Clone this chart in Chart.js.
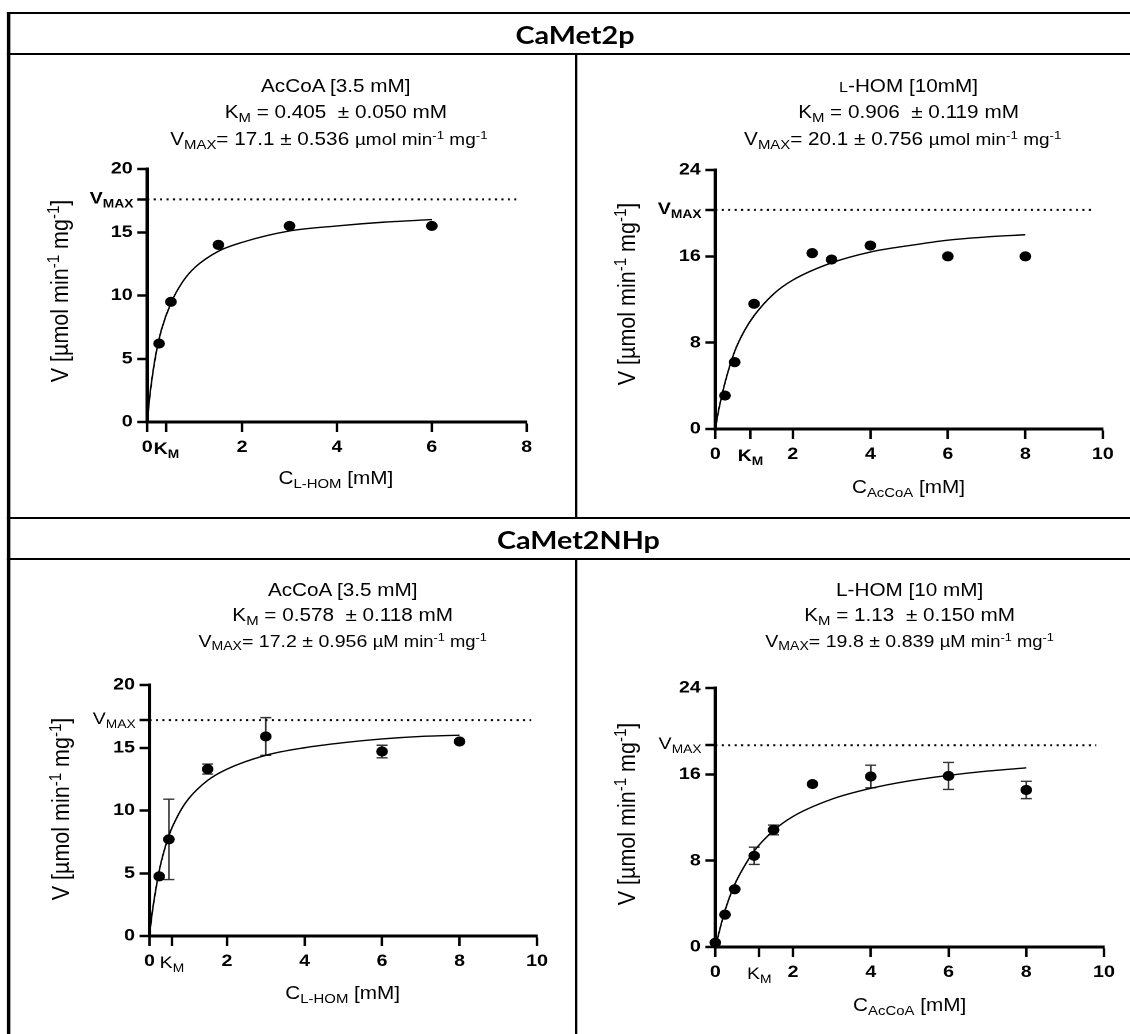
<!DOCTYPE html>
<html>
<head>
<meta charset="utf-8">
<script src="https://cdn.jsdelivr.net/npm/chart.js@4.4.1/dist/chart.umd.min.js"></script>
<style>
  html, body { margin: 0; padding: 0; background: #fff; overflow: hidden; }
  body { width: 1130px; height: 1034px; position: relative; }
  /* the original figure is stretched sideways, so everything is laid out narrow and scaled */
  #page { position: absolute; left: 0; top: 0; width: 1000px; height: 1034px; transform: scaleX(1.15); transform-origin: 0 0; font-family: 'Liberation Sans', Arial, sans-serif; color: #000; }
  .hline { position: absolute; left: 6.4px; width: 1000px; height: 2px; background: #000; }
  .vline { position: absolute; width: 2.4px; background: #000; }
  .head { position: absolute; font-family: Lato, sans-serif; font-weight: bold; font-size: 25px; line-height: 1; transform: translate(-50%, -50%); white-space: nowrap; }
  .ttl { position: absolute; font-size: 18px; line-height: 1; transform: translate(-50%, -50%); white-space: nowrap; }
  .ttl.small { font-size: 17px; }
  .unit { font-size: 16.5px; }
  .small .unit { font-size: 16px; }
  .sc { font-size: 14px; }
  .ytl { transform: translate(-50%, -50%) rotate(-90deg); font-size: 21.5px; }
  sub { font-size: 0.72em; vertical-align: -0.3em; line-height: 0; }
  sup { font-size: 0.7em; vertical-align: 0.5em; line-height: 0; }
  canvas { position: absolute; }
</style>
</head>
<body>
<div id="page">
  <div class="hline" style="top:12px"></div>
  <div class="hline" style="top:52.7px"></div>
  <div class="hline" style="top:517.3px"></div>
  <div class="hline" style="top:558.3px"></div>
  <div class="vline" style="left:6.4px; top:12px; height:1022px"></div>
  <div class="vline" style="left:499.5px; top:53px; height:465px"></div>
  <div class="vline" style="left:499.5px; top:559px; height:475px"></div>

  <div class="head" style="left:500px; top:34px">CaMet2p</div>
  <div class="head" style="left:503px; top:539px">CaMet2NHp</div>

  <div class="ttl" style="left:292px; top:86px">AcCoA [3.5 mM]</div>
  <div class="ttl" style="left:292px; top:112px">K<sub>M</sub> = 0.405&nbsp; ± 0.050 mM</div>
  <div class="ttl" style="left:286px; top:139px">V<sub>MAX</sub>= 17.1 ± 0.536 <span class="unit">µmol min<sup>-1</sup> mg<sup>-1</sup></span></div>

  <div class="ttl" style="left:790px; top:86px"><span class="sc">L</span>-HOM [10mM]</div>
  <div class="ttl" style="left:790px; top:112px">K<sub>M</sub> = 0.906&nbsp; ± 0.119 mM</div>
  <div class="ttl" style="left:785px; top:139px">V<sub>MAX</sub>= 20.1 ± 0.756 <span class="unit">µmol min<sup>-1</sup> mg<sup>-1</sup></span></div>

  <div class="ttl" style="left:298px; top:590px">AcCoA [3.5 mM]</div>
  <div class="ttl" style="left:298px; top:615px">K<sub>M</sub> = 0.578&nbsp; ± 0.118 mM</div>
  <div class="ttl small" style="left:298px; top:641px">V<sub>MAX</sub>= 17.2 ± 0.956 <span class="unit">µM min<sup>-1</sup> mg<sup>-1</sup></span></div>

  <div class="ttl" style="left:791px; top:590px">L-HOM [10 mM]</div>
  <div class="ttl" style="left:791px; top:615px">K<sub>M</sub> = 1.13&nbsp; ± 0.150 mM</div>
  <div class="ttl small" style="left:791px; top:641px">V<sub>MAX</sub>= 19.8 ± 0.839 <span class="unit">µM min<sup>-1</sup> mg<sup>-1</sup></span></div>

  <div class="ttl ytl" style="left:53px; top:291px">V [µmol min<sup>-1</sup> mg<sup>-1</sup>]</div>
  <div class="ttl ytl" style="left:546px; top:294px">V [µmol min<sup>-1</sup> mg<sup>-1</sup>]</div>
  <div class="ttl ytl" style="left:54px; top:809px">V [µmol min<sup>-1</sup> mg<sup>-1</sup>]</div>
  <div class="ttl ytl" style="left:546px; top:814px">V [µmol min<sup>-1</sup> mg<sup>-1</sup>]</div>

  <div class="ttl" style="left:292px; top:478px">C<sub>L-HOM</sub> [mM]</div>
  <div class="ttl" style="left:790px; top:487px">C<sub>AcCoA</sub> [mM]</div>
  <div class="ttl" style="left:298px; top:993px">C<sub>L-HOM</sub> [mM]</div>
  <div class="ttl" style="left:791px; top:1005px">C<sub>AcCoA</sub> [mM]</div>

  <canvas id="c1"></canvas>
  <canvas id="c2"></canvas>
  <canvas id="c3"></canvas>
  <canvas id="c4"></canvas>
</div>

<script>
/* CaMet2p, L-HOM varied (AcCoA 3.5 mM) */
const p1Conc = [0.25, 0.5, 1.5, 3, 6];
const p1Rate = [6.2, 9.5, 14.0, 15.5, 15.5];
const p1FitConc = [0, 0.05, 0.1, 0.2, 0.3, 0.5, 0.75, 1, 1.5, 2, 3, 4, 5, 6];
const p1FitRate = [0, 1.9, 3.4, 5.7, 7.3, 9.4, 11.1, 12.2, 13.5, 14.2, 15.1, 15.5, 15.8, 16.0];
const p1Km = 0.405;
const p1Vmax = 17.6;
const p1VmaxEnd = 7.85;
const p1XTicks = [0, 2, 4, 6, 8];
const p1YTicks = [0, 5, 10, 15, 20];

/* CaMet2p, AcCoA varied (L-HOM 10 mM) */
const p2Conc = [0.25, 0.5, 1, 2.5, 3, 4, 6, 8];
const p2Rate = [3.1, 6.2, 11.6, 16.3, 15.7, 17.0, 16.0, 16.0];
const p2FitConc = [0, 0.1, 0.25, 0.5, 0.75, 1, 1.5, 2, 3, 4, 5, 6, 7, 8];
const p2FitRate = [0, 2.0, 4.3, 7.2, 9.1, 10.5, 12.5, 13.8, 15.4, 16.4, 17.0, 17.5, 17.8, 18.0];
const p2Km = 0.906;
const p2Vmax = 20.3;
const p2VmaxEnd = 9.8;
const p2XTicks = [0, 2, 4, 6, 8, 10];
const p2YTicks = [0, 8, 16, 24];

/* CaMet2NHp, L-HOM varied (AcCoA 3.5 mM) */
const p3Conc = [0.25, 0.5, 1.5, 3, 6, 8];
const p3Rate = [4.75, 7.7, 13.3, 15.9, 14.7, 15.5];
const p3Err = [0, 3.2, 0.4, 1.5, 0.5, 0];
const p3FitConc = [0, 0.05, 0.1, 0.25, 0.5, 0.75, 1, 1.5, 2, 3, 4, 5, 6, 7, 8];
const p3FitRate = [0, 1.4, 2.5, 5.2, 8.0, 9.7, 10.9, 12.4, 13.3, 14.4, 15.0, 15.4, 15.7, 15.9, 16.0];
const p3Km = 0.578;
const p3Vmax = 17.2;
const p3VmaxEnd = 9.85;
const p3XTicks = [0, 2, 4, 6, 8, 10];
const p3YTicks = [0, 5, 10, 15, 20];

/* CaMet2NHp, AcCoA varied (L-HOM 10 mM) */
const p4Conc = [0, 0.25, 0.5, 1, 1.5, 2.5, 4, 6, 8];
const p4Rate = [0.4, 3.0, 5.35, 8.45, 10.85, 15.1, 15.8, 15.85, 14.55];
const p4Err = [0, 0, 0, 0.8, 0.45, 0, 1.05, 1.25, 0.8];
const p4FitConc = [0, 0.25, 0.5, 0.75, 1, 1.5, 2, 3, 4, 5, 6, 7, 8];
const p4FitRate = [0, 3.4, 5.8, 7.5, 8.9, 10.8, 12.1, 13.7, 14.7, 15.4, 15.9, 16.3, 16.6];
const p4Km = 1.13;
const p4Vmax = 18.7;
const p4VmaxEnd = 9.8;
const p4XTicks = [0, 2, 4, 6, 8, 10];
const p4YTicks = [0, 8, 16, 24];

const S = 1.15; // horizontal stretch of the figure
const FONT = "'Liberation Sans', Arial, sans-serif";

function pts(xs, ys) {
  return xs.map(function (x, i) { return { x: x, y: ys[i] }; });
}

// V_MAX on the y axis and K_M on the x axis, with subscripts
function drawSub(ctx, main, sub, x, y, align, weight) {
  ctx.font = weight + ' 17px ' + FONT;
  const w1 = ctx.measureText(main).width;
  ctx.font = weight + ' 12px ' + FONT;
  const w2 = ctx.measureText(sub).width;
  const x0 = align === 'right' ? x - w1 - w2 : x - (w1 + w2) / 2;
  ctx.font = weight + ' 17px ' + FONT;
  ctx.fillText(main, x0, y);
  ctx.font = weight + ' 12px ' + FONT;
  ctx.fillText(sub, x0 + w1, y + 4);
}

function markLabels(km, vmax, weight) {
  return {
    id: 'markLabels',
    afterDraw: function (chart) {
      const ctx = chart.ctx;
      const xs = chart.scales.x;
      const ys = chart.scales.y;
      ctx.save();
      ctx.fillStyle = '#000';
      ctx.textBaseline = 'alphabetic';
      drawSub(ctx, 'V', 'MAX', xs.left - 12, ys.getPixelForValue(vmax) + 4, 'right', weight);
      drawSub(ctx, 'K', 'M', xs.getPixelForValue(km), ys.bottom + 32, 'center', weight);
      ctx.restore();
    }
  };
}

function errorBars(conc, rate, err) {
  return {
    id: 'errorBars',
    beforeDatasetsDraw: function (chart) {
      if (!err) return;
      const ctx = chart.ctx;
      const xs = chart.scales.x;
      const ys = chart.scales.y;
      ctx.save();
      ctx.strokeStyle = '#333';
      ctx.lineWidth = 1.4;
      conc.forEach(function (c, i) {
        if (!err[i]) return;
        const px = xs.getPixelForValue(c);
        const top = ys.getPixelForValue(rate[i] + err[i]);
        const bot = ys.getPixelForValue(rate[i] - err[i]);
        ctx.beginPath();
        ctx.moveTo(px, top); ctx.lineTo(px, bot);
        ctx.moveTo(px - 4.8, top); ctx.lineTo(px + 4.8, top);
        ctx.moveTo(px - 4.8, bot); ctx.lineTo(px + 4.8, bot);
        ctx.stroke();
      });
      ctx.restore();
    }
  };
}

// area = chart area in screen pixels {l, r, t, b}
function panel(id, area, p) {
  const padL = 100, padR = 40, padT = 25, padB = 60;
  const canvas = document.getElementById(id);
  const w = Math.round((area.r - area.l) / S + padL + padR);
  const h = Math.round(area.b - area.t + padT + padB);
  canvas.width = w;
  canvas.height = h;
  canvas.style.left = (area.l / S - padL) + 'px';
  canvas.style.top = (area.t - padT) + 'px';

  const tickFont = { family: FONT, size: 17, weight: 'bold' };

  new Chart(canvas, {
    type: 'scatter',
    data: {
      datasets: [
        {
          data: pts(p.conc, p.rate),
          backgroundColor: '#000',
          borderColor: '#000',
          pointRadius: 4.6,
          pointHoverRadius: 4.6,
          clip: false,
        },
        {
          data: pts(p.fitConc, p.fitRate),
          showLine: true,
          borderColor: '#000',
          borderWidth: 1.4,
          pointRadius: 0,
          cubicInterpolationMode: 'monotone',
          clip: false,
        },
        {
          data: [{ x: 0, y: p.vmax }, { x: p.vmaxEnd, y: p.vmax }],
          showLine: true,
          borderColor: '#000',
          borderWidth: 2,
          borderDash: [1.8, 3.8],
          pointRadius: 0,
          clip: false,
        },
      ],
    },
    options: {
      responsive: false,
      animation: false,
      devicePixelRatio: 2,
      layout: { padding: { left: 0, right: padR, top: padT, bottom: 0 } },
      plugins: { legend: { display: false }, tooltip: { enabled: false } },
      scales: {
        x: {
          type: 'linear',
          min: p.xTicks[0],
          max: p.xTicks[p.xTicks.length - 1],
          afterBuildTicks: function (scale) {
            scale.ticks = p.xTicks.concat([p.km]).map(function (v) { return { value: v }; });
          },
          afterFit: function (scale) {
            scale.height = padB;
            scale.paddingLeft = 0;
            scale.paddingRight = 0;
          },
          ticks: {
            autoSkip: false,
            maxRotation: 0,
            padding: 5,
            color: '#000',
            font: tickFont,
            callback: function (v) { return v === p.km ? '' : v; },
          },
          grid: { drawOnChartArea: false, tickLength: 10, tickWidth: 2.2, tickColor: '#000' },
          border: { color: '#000', width: 3 },
        },
        y: {
          type: 'linear',
          min: p.yTicks[0],
          max: p.yTicks[p.yTicks.length - 1],
          afterBuildTicks: function (scale) {
            scale.ticks = p.yTicks.concat([p.vmax]).map(function (v) { return { value: v }; });
          },
          afterFit: function (scale) {
            scale.width = padL;
            scale.paddingTop = 0;
            scale.paddingBottom = 0;
          },
          ticks: {
            autoSkip: false,
            padding: 4,
            color: '#000',
            font: tickFont,
            callback: function (v) { return v === p.vmax ? '' : v; },
          },
          grid: { drawOnChartArea: false, tickLength: 8.7, tickWidth: 2.5, tickColor: '#000' },
          border: { color: '#000', width: 3 },
        },
      },
    },
    plugins: [markLabels(p.km, p.vmax, p.bold ? 'bold' : 'normal'), errorBars(p.conc, p.rate, p.err)],
  });
}

panel('c1', { l: 147, r: 526, t: 169, b: 422 }, {
  conc: p1Conc, rate: p1Rate, fitConc: p1FitConc, fitRate: p1FitRate,
  km: p1Km, vmax: p1Vmax, vmaxEnd: p1VmaxEnd, xTicks: p1XTicks, yTicks: p1YTicks, bold: true,
});
panel('c2', { l: 715.6, r: 1103.7, t: 170, b: 429 }, {
  conc: p2Conc, rate: p2Rate, fitConc: p2FitConc, fitRate: p2FitRate,
  km: p2Km, vmax: p2Vmax, vmaxEnd: p2VmaxEnd, xTicks: p2XTicks, yTicks: p2YTicks, bold: true,
});
panel('c3', { l: 149.5, r: 537, t: 685, b: 936 }, {
  conc: p3Conc, rate: p3Rate, err: p3Err, fitConc: p3FitConc, fitRate: p3FitRate,
  km: p3Km, vmax: p3Vmax, vmaxEnd: p3VmaxEnd, xTicks: p3XTicks, yTicks: p3YTicks, bold: false,
});
panel('c4', { l: 715.3, r: 1103.7, t: 688, b: 947 }, {
  conc: p4Conc, rate: p4Rate, err: p4Err, fitConc: p4FitConc, fitRate: p4FitRate,
  km: p4Km, vmax: p4Vmax, vmaxEnd: p4VmaxEnd, xTicks: p4XTicks, yTicks: p4YTicks, bold: false,
});
</script>
</body>
</html>
